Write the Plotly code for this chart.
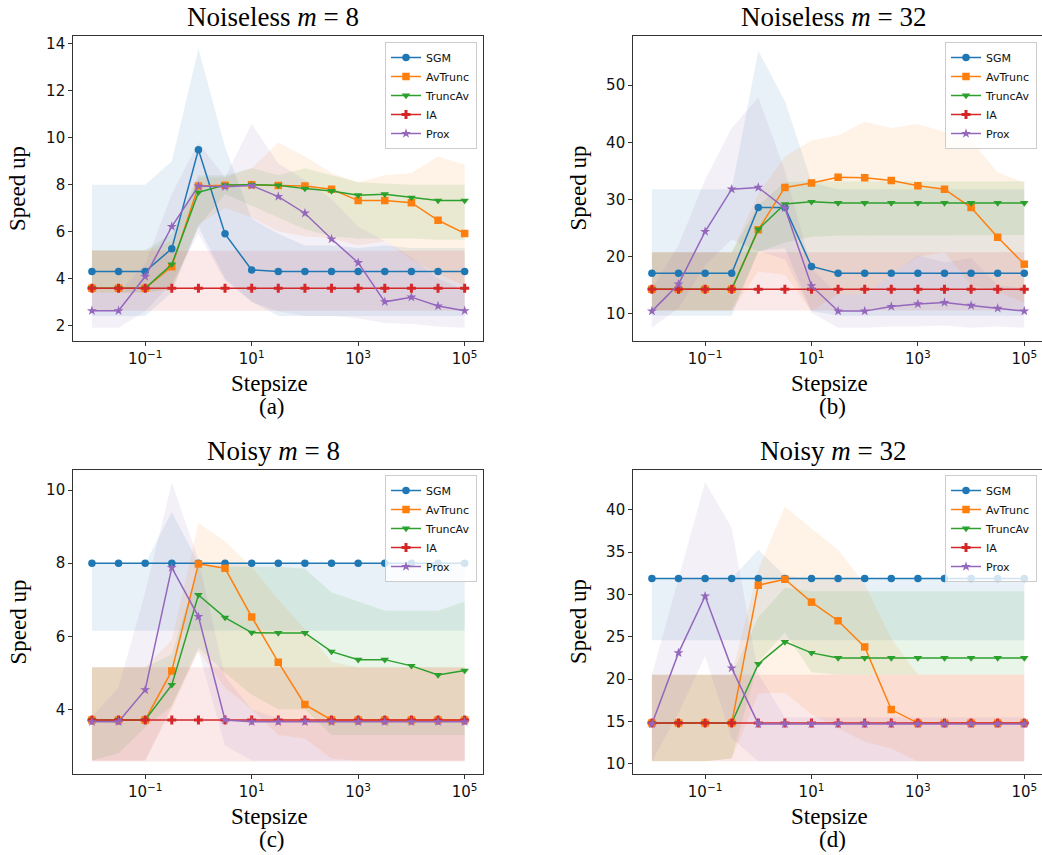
import plotly.graph_objects as go

W, H = 1042, 855

stepsizes = [0.01, 0.0316, 0.1, 0.316, 1, 3.16, 10, 31.6, 100, 316, 1000, 3162, 10000, 31623, 100000]
series_names = ["SGM", "AvTrunc", "TruncAv", "IA", "Prox"]
colors = ["#1f77b4", "#ff7f0e", "#2ca02c", "#d62728", "#9467bd"]
fills = ["rgba(31,119,180,0.1)", "rgba(255,127,14,0.1)", "rgba(44,160,44,0.1)",
         "rgba(214,39,40,0.1)", "rgba(148,103,189,0.1)"]
symbols = ["circle", "square", "triangle-down", "cross", "star"]

panel_titles = ["Noiseless <i>m</i> = 8", "Noiseless <i>m</i> = 32", "Noisy <i>m</i> = 8", "Noisy <i>m</i> = 32"]
panel_tags = ["(a)", "(b)", "(c)", "(d)"]
x_label = "Stepsize"
y_label = "Speed up"
x_tick_vals = [0.1, 10, 1000, 100000]
x_tick_text = ["10<sup>−1</sup>", "10<sup>1</sup>", "10<sup>3</sup>", "10<sup>5</sup>"]
y_tick_vals = [[2, 4, 6, 8, 10, 12, 14], [10, 20, 30, 40, 50], [4, 6, 8, 10], [10, 15, 20, 25, 30, 35, 40]]

# ---- (a) Noiseless m = 8
sgm_a = [4.29, 4.29, 4.29, 5.27, 9.49, 5.9, 4.36, 4.29, 4.29, 4.29, 4.29, 4.29, 4.29, 4.29, 4.29]
avt_a = [3.58, 3.58, 3.58, 4.5, 7.94, 7.97, 7.99, 7.96, 7.94, 7.8, 7.32, 7.32, 7.23, 6.48, 5.92]
tav_a = [3.58, 3.58, 3.58, 4.6, 7.67, 7.98, 8.0, 7.97, 7.83, 7.73, 7.55, 7.59, 7.45, 7.32, 7.32]
ia_a = [3.58] * 15
prox_a = [2.62, 2.62, 4.08, 6.21, 7.94, 7.91, 7.96, 7.49, 6.78, 5.68, 4.67, 3.0, 3.2, 2.82, 2.62]
lo_a = [
    [2.4, 2.4, 2.4, 3.4, 6.2, 4.0, 3.0, 2.4, 2.4, 2.4, 2.4, 2.4, 2.4, 2.4, 2.4],
    [3.4, 3.4, 3.4, 3.5, 6.3, 7.0, 6.6, 6.0, 5.8, 5.7, 5.4, 5.6, 4.8, 4.2, 3.7],
    [3.4, 3.4, 3.4, 3.6, 6.2, 7.6, 7.1, 6.6, 6.1, 5.8, 5.7, 5.7, 5.7, 5.65, 5.65],
    [2.62] * 15,
    [1.9, 1.9, 2.6, 3.8, 5.9, 3.9, 3.0, 2.6, 2.4, 2.4, 2.3, 2.1, 2.05, 1.95, 1.9],
]
hi_a = [
    [8.0, 8.0, 8.0, 9.0, 13.8, 9.6, 6.55, 5.9, 5.4, 5.4, 5.3, 5.4, 5.3, 5.3, 5.3],
    [5.2, 5.2, 5.2, 5.6, 8.3, 8.3, 8.7, 9.8, 9.2, 8.5, 8.1, 8.4, 8.5, 9.2, 8.85],
    [5.2, 5.2, 5.2, 5.9, 8.4, 8.4, 8.7, 8.4, 8.7, 8.4, 8.1, 8.05, 8.0, 8.0, 8.0],
    [5.18] * 15,
    [3.4, 3.4, 4.6, 7.6, 9.8, 8.3, 10.6, 8.9, 8.2, 7.4, 6.2, 5.6, 4.9, 4.0, 3.5],
]

# ---- (b) Noiseless m = 32
sgm_b = [17.1, 17.1, 17.1, 17.1, 28.6, 28.6, 18.3, 17.1, 17.1, 17.1, 17.1, 17.1, 17.1, 17.1, 17.1]
avt_b = [14.3, 14.3, 14.3, 14.3, 24.7, 32.1, 32.9, 33.9, 33.8, 33.3, 32.4, 31.8, 28.6, 23.4, 18.7]
tav_b = [14.3, 14.3, 14.3, 14.3, 24.8, 29.2, 29.6, 29.4, 29.4, 29.4, 29.4, 29.4, 29.4, 29.4, 29.4]
ia_b = [14.3] * 15
prox_b = [10.5, 15.2, 24.4, 31.8, 32.1, 28.5, 14.9, 10.5, 10.5, 11.3, 11.75, 12.0, 11.5, 11.0, 10.5]
lo_b = [
    [9.7, 9.7, 9.7, 9.7, 21.0, 21.5, 10.5, 9.7, 9.7, 9.7, 9.7, 9.7, 9.7, 9.7, 9.7],
    [10.6, 10.6, 10.6, 10.6, 17.4, 16.8, 10.5, 13.4, 13.4, 17.0, 20.0, 20.8, 15.0, 13.8, 12.0],
    [10.6, 10.6, 10.6, 10.6, 20.8, 22.5, 23.5, 23.7, 23.8, 23.8, 23.8, 23.8, 23.8, 23.8, 23.8],
    [10.6] * 15,
    [7.6, 11.0, 18.5, 23.0, 21.0, 19.5, 10.2, 7.6, 7.6, 7.8, 7.8, 8.0, 7.6, 7.8, 7.6],
]
hi_b = [
    [31.8, 31.8, 31.8, 31.8, 56.0, 47.2, 33.0, 31.8, 31.8, 31.8, 31.8, 31.8, 31.8, 31.8, 31.8],
    [20.8, 20.8, 20.8, 20.8, 31.0, 37.5, 40.3, 41.2, 43.6, 42.5, 43.2, 41.8, 40.4, 34.7, 33.0],
    [20.8, 20.8, 20.8, 20.8, 29.0, 33.0, 33.2, 33.2, 33.2, 33.2, 33.2, 33.2, 33.2, 33.2, 33.2],
    [20.8] * 15,
    [14.5, 22.0, 33.5, 42.5, 47.8, 35.0, 18.0, 13.4, 13.4, 17.0, 20.2, 19.0, 19.8, 15.0, 14.5],
]

# ---- (c) Noisy m = 8
sgm_c = [8.0] * 15
avt_c = [3.71, 3.71, 3.71, 5.05, 7.98, 7.86, 6.53, 5.29, 4.13, 3.71, 3.71, 3.71, 3.71, 3.71, 3.71]
tav_c = [3.71, 3.71, 3.71, 4.67, 7.13, 6.51, 6.1, 6.09, 6.09, 5.58, 5.36, 5.36, 5.19, 4.94, 5.06]
ia_c = [3.71] * 15
prox_c = [3.66, 3.66, 4.53, 7.88, 6.54, 3.71, 3.66, 3.66, 3.66, 3.66, 3.66, 3.66, 3.66, 3.66, 3.66]
lo_c = [
    [6.15] * 15,
    [2.6, 2.6, 2.6, 4.0, 5.6, 4.6, 4.0, 3.3, 3.2, 2.65, 2.6, 2.6, 2.6, 2.6, 2.6],
    [2.6, 2.8, 3.5, 4.1, 5.7, 5.0, 4.4, 4.0, 4.0, 3.3, 3.3, 3.3, 3.3, 3.3, 3.3],
    [2.57] * 15,
    [2.6, 2.6, 2.6, 4.1, 5.6, 3.0, 2.6, 2.6, 2.6, 2.6, 2.6, 2.6, 2.6, 2.6, 2.6],
]
hi_c = [
    [8.0, 8.0, 8.0, 9.4, 8.0, 8.0, 8.0, 8.0, 8.0, 8.0, 8.0, 8.0, 8.0, 8.0, 8.0],
    [5.15, 5.15, 5.15, 5.9, 9.1, 8.6, 7.9, 7.0, 6.2, 5.3, 5.15, 5.15, 5.15, 5.15, 5.15],
    [5.15, 5.15, 5.15, 5.5, 7.9, 7.9, 7.9, 7.9, 7.85, 7.2, 6.95, 6.7, 6.7, 6.7, 6.95],
    [5.15] * 15,
    [3.8, 4.6, 7.2, 10.2, 8.1, 4.9, 4.0, 3.75, 3.7, 3.7, 3.7, 3.7, 3.7, 3.7, 3.7],
]

# ---- (d) Noisy m = 32
sgm_d = [31.9] * 15
avt_d = [14.8, 14.8, 14.8, 14.8, 31.1, 31.8, 29.1, 26.9, 23.8, 16.4, 14.8, 14.8, 14.8, 14.8, 14.8]
tav_d = [14.8, 14.8, 14.8, 14.8, 21.8, 24.4, 23.1, 22.5, 22.5, 22.5, 22.5, 22.5, 22.5, 22.5, 22.5]
ia_d = [14.8] * 15
prox_d = [14.7, 23.1, 29.8, 21.3, 14.7, 14.7, 14.7, 14.7, 14.7, 14.7, 14.7, 14.7, 14.7, 14.7, 14.7]
lo_d = [
    [24.6] * 15,
    [10.3, 10.3, 10.3, 10.6, 18.3, 18.4, 15.8, 14.2, 12.6, 11.8, 10.3, 10.3, 10.3, 10.3, 10.3],
    [10.3, 10.3, 10.3, 10.6, 22.0, 25.5, 20.8, 20.5, 20.5, 20.5, 20.5, 20.5, 20.5, 20.5, 20.5],
    [10.3] * 15,
    [10.3, 16.0, 22.7, 13.0, 10.3, 10.3, 10.3, 10.3, 10.3, 10.3, 10.3, 10.3, 10.3, 10.3, 10.3],
]
hi_d = [
    [31.9, 31.9, 31.9, 31.9, 35.3, 32.2, 31.9, 31.9, 31.9, 31.9, 31.9, 31.9, 31.9, 31.9, 31.9],
    [20.5, 20.5, 20.5, 20.5, 33.0, 40.4, 37.8, 35.3, 31.2, 24.8, 20.5, 20.5, 20.5, 20.5, 20.5],
    [20.5, 20.5, 20.5, 20.5, 27.3, 30.8, 30.4, 30.4, 30.4, 30.4, 30.4, 30.4, 30.4, 30.4, 30.4],
    [20.5] * 15,
    [20.5, 32.0, 43.3, 37.9, 20.6, 15.5, 15.5, 15.5, 15.5, 15.5, 15.5, 15.5, 15.5, 15.5, 15.5],
]

panels = [
    ([sgm_a, avt_a, tav_a, ia_a, prox_a], lo_a, hi_a),
    ([sgm_b, avt_b, tav_b, ia_b, prox_b], lo_b, hi_b),
    ([sgm_c, avt_c, tav_c, ia_c, prox_c], lo_c, hi_c),
    ([sgm_d, avt_d, tav_d, ia_d, prox_d], lo_d, hi_d),
]

# ---- layout geometry (pixels)
boxes = [  # left, right, top, bottom
    (73.3, 483.3, 36, 341),
    (633.3, 1043, 36, 341),
    (73.3, 483.3, 470, 774),
    (633.3, 1043, 470, 774),
]
y_ranges = [[1.33, 14.34], [5.28, 58.56], [2.23, 10.55], [8.78, 44.72]]
x_range_log = [-2.35, 5.35]
x_range_log_right = [-2.35, 5.333]

def px(x):
    return x / W

def py(y):
    return 1 - y / H

fig = go.Figure()
serif = "Liberation Serif, Times New Roman, serif"
sans = "DejaVu Sans, sans-serif"

for p, (vals, lo, hi) in enumerate(panels):
    xa = "x" if p == 0 else f"x{p+1}"
    ya = "y" if p == 0 else f"y{p+1}"
    lg = "legend" if p == 0 else f"legend{p+1}"
    for k in range(5):
        fig.add_trace(go.Scatter(
            x=stepsizes + stepsizes[::-1], y=hi[k] + lo[k][::-1],
            fill="toself", fillcolor=fills[k], line=dict(width=0),
            mode="lines", hoverinfo="skip", showlegend=False,
            xaxis=xa, yaxis=ya))
    for k in range(5):
        fig.add_trace(go.Scatter(
            x=stepsizes, y=vals[k], name=series_names[k], mode="lines+markers",
            line=dict(color=colors[k], width=1.5),
            marker=dict(symbol=symbols[k], size=7.5, color=colors[k]),
            xaxis=xa, yaxis=ya, legend=lg, showlegend=True))

axis_common = dict(showline=True, linecolor="#333333", linewidth=1.2,
                   ticks="outside", ticklen=4, tickcolor="#333333", tickwidth=1,
                   showgrid=False, zeroline=False,
                   tickfont=dict(family=sans, size=15, color="#111111"))

layout = dict(width=W, height=H, margin=dict(l=0, r=0, t=0, b=0),
              paper_bgcolor="white", plot_bgcolor="white", annotations=[])

for p in range(4):
    l, r, t, b = boxes[p]
    xk = "xaxis" if p == 0 else f"xaxis{p+1}"
    yk = "yaxis" if p == 0 else f"yaxis{p+1}"
    ya = "y" if p == 0 else f"y{p+1}"
    xa = "x" if p == 0 else f"x{p+1}"
    layout[xk] = dict(axis_common, type="log", mirror=True,
                      range=x_range_log if p % 2 == 0 else x_range_log_right,
                      domain=[px(l), min(1.0, px(r))], anchor=ya,
                      tickvals=x_tick_vals, ticktext=x_tick_text)
    layout[yk] = dict(axis_common, range=y_ranges[p], domain=[py(b), py(t)], anchor=xa,
                      tickvals=y_tick_vals[p], mirror=(p % 2 == 0))
    lg = "legend" if p == 0 else f"legend{p+1}"
    legx = 477 if p % 2 == 0 else 1037
    legy = 42 if p < 2 else 475
    layout[lg] = dict(x=px(legx), xanchor="right", y=py(legy), yanchor="top",
                      bgcolor="rgba(255,255,255,0.8)", bordercolor="#cccccc", borderwidth=1,
                      font=dict(family=sans, size=11, color="#111111"),
                      tracegroupgap=0, itemwidth=30)
    cx_title = 273 if p % 2 == 0 else 833
    cy_title = 17 if p < 2 else 451
    cx_lab = 269 if p % 2 == 0 else 829
    cy_lab = 383 if p < 2 else 816
    cy_tag = 406 if p < 2 else 839
    cx_y = 17.5 if p % 2 == 0 else 578
    cy_y = (t + b) / 2
    layout["annotations"] += [
        dict(text=panel_titles[p], x=px(cx_title), y=py(cy_title), xref="paper", yref="paper",
             xanchor="center", yanchor="middle", showarrow=False,
             font=dict(family=serif, size=27, color="black")),
        dict(text=x_label, x=px(cx_lab), y=py(cy_lab), xref="paper", yref="paper",
             xanchor="center", yanchor="middle", showarrow=False,
             font=dict(family=serif, size=23, color="black")),
        dict(text=panel_tags[p], x=px(cx_lab + 3), y=py(cy_tag), xref="paper", yref="paper",
             xanchor="center", yanchor="middle", showarrow=False,
             font=dict(family=serif, size=23, color="black")),
        dict(text=y_label, x=px(cx_y), y=py(cy_y), xref="paper", yref="paper",
             xanchor="center", yanchor="middle", showarrow=False, textangle=-90,
             font=dict(family=serif, size=23, color="black")),
    ]

fig.update_layout(**layout)
fig.write_html("out.html", config={"displayModeBar": False},
               post_script="document.body.style.margin='0';document.body.style.overflow='hidden';")
